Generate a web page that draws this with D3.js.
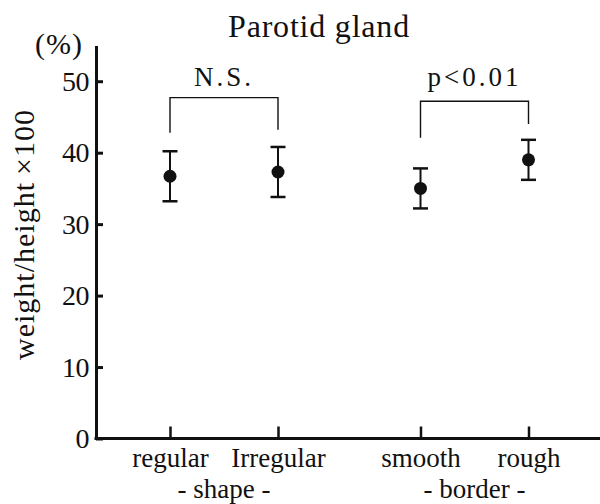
<!DOCTYPE html>
<html>
<head>
<meta charset="utf-8">
<script src="https://cdn.jsdelivr.net/npm/d3@7"></script>
<style>
  body { margin: 0; background: #fff; }
  svg text { font-family: "Liberation Serif", "Times New Roman", serif; fill: #111; }
</style>
</head>
<body>
<svg width="600" height="504"></svg>
<script>
// Chart data
const groupNames = ["shape", "border"];
const categories = ["regular", "Irregular", "smooth", "rough"];
const categoryGroup = ["shape", "shape", "border", "border"];
const means = [36.7, 37.3, 35.0, 39.0];
const errors = [3.5, 3.5, 2.8, 2.8];
const yTicks = [0, 10, 20, 30, 40, 50];

// significance brackets, one per group
const compLabels = ["N.S.", "p<0.01"];
const bracketTop = [47.7, 47.2];
const bracketLeftEnd = [42.8, 42.1];
const bracketRightEnd = [43.2, 44.0];

const svg = d3.select("svg");
const axisX = 96;

const y = d3.scaleLinear().domain([0, 55]).range([438.5, 45.5]);

// group centres, then left/right member within a group
const xGroup = d3.scalePoint().domain(groupNames).range([224, 474.5]);
const xInner = d3.scalePoint().domain([0, 1]).range([-54, 54]);
const xPos = categories.map((c, i) => {
    const g = categoryGroup[i];
    const idx = categoryGroup.slice(0, i).filter(v => v === g).length;
    return xGroup(g) + xInner(idx);
});
const x = d3.scaleOrdinal().domain(categories).range(xPos);

// Title
svg.append("text")
    .attr("x", 319)
    .attr("y", 36.5)
    .attr("text-anchor", "middle")
    .attr("font-size", "32px")
    .attr("letter-spacing", "0.8px")
    .text("Parotid gland");

// unit
svg.append("text")
    .attr("x", 59)
    .attr("y", 54)
    .attr("text-anchor", "middle")
    .attr("font-size", "30px")
    .attr("letter-spacing", "1px")
    .text("(%)");

// Y axis
const yAxis = svg.append("g")
    .attr("class", "axis-y")
    .attr("transform", `translate(${axisX},0)`)
    .call(d3.axisLeft(y).tickValues(yTicks).tickSizeInner(-7).tickSizeOuter(0).tickPadding(7));
yAxis.select(".domain").attr("stroke", "#111").attr("stroke-width", 3);
yAxis.selectAll(".tick line").attr("stroke", "#111").attr("stroke-width", 3);
yAxis.selectAll(".tick text")
    .attr("font-size", "28px")
    .attr("letter-spacing", "-0.5px")
    .attr("fill", "#111");

// X axis
const xAxis = svg.append("g")
    .attr("class", "axis-x")
    .attr("transform", `translate(0,${y(0)})`)
    .call(d3.axisBottom(x).tickSizeInner(-12).tickSizeOuter(0).tickPadding(9));
xAxis.select(".domain").remove();
xAxis.append("line")
    .attr("x1", axisX - 1.5)
    .attr("x2", 600)
    .attr("stroke", "#111")
    .attr("stroke-width", 3);
xAxis.selectAll(".tick line").attr("stroke", "#111").attr("stroke-width", 2.5);
xAxis.selectAll(".tick text")
    .attr("font-size", "27px")
    .attr("fill", "#111");

// group labels
svg.selectAll("text.group-label")
    .data(groupNames)
    .enter()
    .append("text")
    .attr("class", "group-label")
    .attr("x", g => xGroup(g))
    .attr("y", 498)
    .attr("text-anchor", "middle")
    .attr("font-size", "27px")
    .text(g => "- " + g + " -");

// Y label
svg.append("text")
    .attr("transform", "translate(34,234.5) rotate(-90)")
    .attr("text-anchor", "middle")
    .attr("font-size", "30px")
    .attr("letter-spacing", "1px")
    .text("weight/height\u2009\u00d7100");

// Error bars
const points = categories.map((c, i) => ({ cat: c, mean: means[i], err: errors[i] }));
const bars = svg.selectAll("g.err")
    .data(points)
    .enter()
    .append("g")
    .attr("class", "err")
    .attr("stroke", "#111")
    .attr("stroke-width", 2);

bars.append("line")
    .attr("x1", d => x(d.cat)).attr("x2", d => x(d.cat))
    .attr("y1", d => y(d.mean + d.err)).attr("y2", d => y(d.mean - d.err));
bars.append("line")
    .attr("x1", d => x(d.cat) - 7.5).attr("x2", d => x(d.cat) + 7.5)
    .attr("y1", d => y(d.mean + d.err)).attr("y2", d => y(d.mean + d.err))
    .attr("stroke-width", 2.5);
bars.append("line")
    .attr("x1", d => x(d.cat) - 7.5).attr("x2", d => x(d.cat) + 7.5)
    .attr("y1", d => y(d.mean - d.err)).attr("y2", d => y(d.mean - d.err))
    .attr("stroke-width", 2.5);

svg.selectAll("circle.data-point")
    .data(points)
    .enter()
    .append("circle")
    .attr("class", "data-point")
    .attr("cx", d => x(d.cat))
    .attr("cy", d => y(d.mean))
    .attr("r", 6.5)
    .attr("fill", "#111");

// Brackets
groupNames.forEach((g, i) => {
    const members = categories.filter((c, j) => categoryGroup[j] === g);
    const x1 = x(members[0]);
    const x2 = x(members[members.length - 1]);
    svg.append("path")
        .attr("fill", "none")
        .attr("stroke", "#111")
        .attr("stroke-width", 1.4)
        .attr("d", `M${x1},${y(bracketLeftEnd[i])}V${y(bracketTop[i])}H${x2}V${y(bracketRightEnd[i])}`);
    svg.append("text")
        .attr("x", (x1 + x2) / 2)
        .attr("y", 86)
        .attr("text-anchor", "middle")
        .attr("font-size", "27px")
        .attr("letter-spacing", "3px")
        .text(compLabels[i]);
});
</script>
</body>
</html>
